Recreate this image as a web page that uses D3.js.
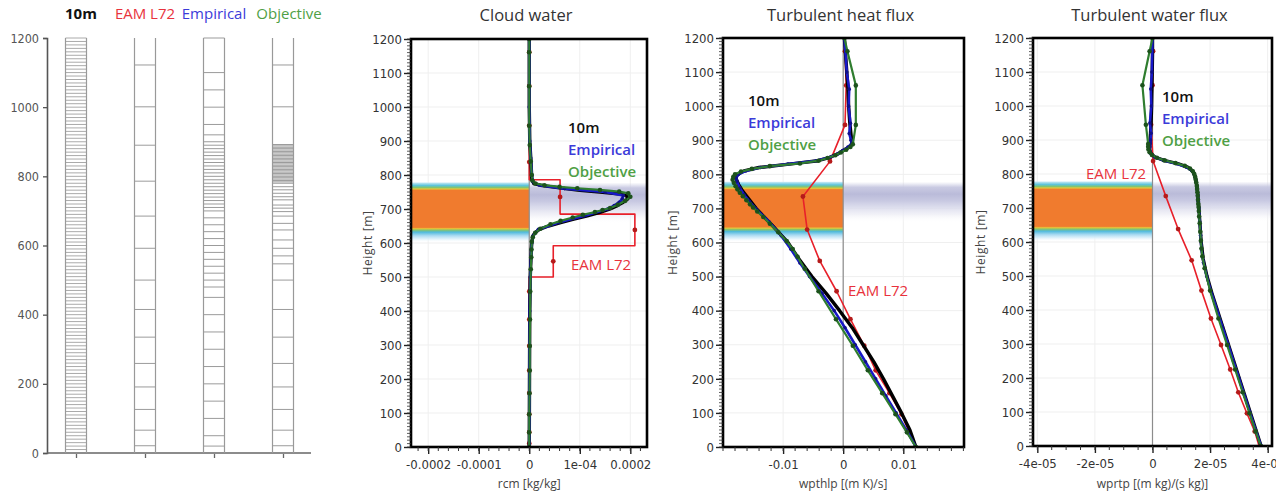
<!DOCTYPE html>
<html>
<head>
<meta charset="utf-8">
<script src="https://cdn.jsdelivr.net/npm/d3@7"></script>
<style>
  body { margin: 0; background: #fff; }
  svg { display: block; }
  .tick text { font-family: "DejaVu Sans Condensed", "Liberation Sans Narrow", "DejaVu Sans", sans-serif; }
  .lbl { font-family: "Open Sans", "Noto Sans", sans-serif; }
</style>
</head>
<body>
<svg id="chart" width="1276" height="494"></svg>
<script>
// ---------- panel 1: vertical grids (level heights in m)
var gridNames = ['10m', 'EAM L72', 'Empirical', 'Objective'];
var grid10m = [10, 20, 30, 40, 50, 60, 70, 80, 90, 100, 110, 120, 130, 140, 150, 160, 170, 180, 190, 200,
  210, 220, 230, 240, 250, 260, 270, 280, 290, 300, 310, 320, 330, 340, 350, 360, 370, 380, 390, 400,
  410, 420, 430, 440, 450, 460, 470, 480, 490, 500, 510, 520, 530, 540, 550, 560, 570, 580, 590, 600,
  610, 620, 630, 640, 650, 660, 670, 680, 690, 700, 710, 720, 730, 740, 750, 760, 770, 780, 790, 800,
  810, 820, 830, 840, 850, 860, 870, 880, 890, 900, 910, 920, 930, 940, 950, 960, 970, 980, 990, 1000,
  1010, 1020, 1030, 1040, 1050, 1060, 1070, 1080, 1090, 1100, 1110, 1120, 1130, 1140, 1150, 1160, 1170, 1180, 1190, 1200];
var gridEAM = [21, 66, 126, 191, 259, 335, 415, 500, 592, 685, 786, 890, 1001, 1122];
var gridEmpirical = [20, 50, 100, 150, 200, 250, 300, 350, 400, 450, 480, 500, 520, 540, 560, 580, 600, 620, 640, 660,
  680, 700, 710, 720, 730, 740, 750, 760, 770, 780, 790, 800, 810, 820, 830, 840, 850, 860, 870, 880,
  890, 900, 920, 950, 1000, 1050, 1100, 1200];
var gridObjective = [21, 66, 126, 191, 259, 335, 415, 500, 547, 570, 592, 616, 645, 664, 685, 698, 708, 717, 732, 741,
  751, 761, 770, 780, 784, 788, 792, 796, 800, 804, 808, 812, 816, 820, 824, 828, 832, 836, 840, 844,
  848, 852, 856, 860, 864, 868, 872, 876, 880, 884, 888, 892, 1001, 1122];
var gridTicks = [0, 200, 400, 600, 800, 1000, 1200];

// ---------- profile heights (m)
var heightTicks = [0, 100, 200, 300, 400, 500, 600, 700, 800, 900, 1000, 1100, 1200];
var z10 = [0, 50, 100, 150, 200, 250, 300, 350, 400, 450, 500, 550, 600, 650, 700, 750, 770, 790, 800, 810,
  820, 830, 840, 850, 860, 870, 880, 890, 900, 950, 1000, 1050, 1100, 1150, 1200];
var zEmp = [0, 50, 100, 150, 200, 250, 300, 350, 400, 450, 500, 540, 580, 620, 660, 700, 720, 740, 760, 780,
  790, 800, 810, 820, 830, 840, 850, 860, 870, 880, 890, 900, 920, 950, 1000, 1050, 1100, 1200];
var zObj = [0, 43, 96, 158, 225, 297, 375, 457, 523, 558, 581, 604, 630, 655, 675, 691, 703, 712, 724, 736,
  746, 756, 765, 775, 784, 792, 800, 808, 816, 824, 832, 840, 848, 856, 864, 872, 880, 888, 945, 1061, 1161, 1200];
var zEAM = [0, 43, 96, 158, 225, 297, 375, 457, 546, 638, 735, 838, 945, 1061, 1161, 1200];

// ---------- cloud water rcm [kg/kg]
var rcmTicks = [-0.0002, -0.0001, 0, 0.0001, 0.0002];
var rcmTickLabels = ['-0.0002', '-0.0001', '0', '1e-04', '0.0002'];
var rcmZ10 = [0, 400, 500, 580, 600, 620, 630, 640, 650, 660, 670, 680, 690, 700, 710, 720, 730, 740, 745, 750,
  755, 760, 765, 770, 775, 790, 850, 900, 1000, 1200];
var rcm10 = [0, 0.01e-4, 0.02e-4, 0.04e-4, 0.05e-4, 0.07e-4, 0.11e-4, 0.2e-4, 0.38e-4, 0.62e-4, 0.88e-4, 1.15e-4, 1.4e-4, 1.6e-4, 1.74e-4, 1.86e-4, 1.95e-4, 1.92e-4, 1.75e-4, 1.4e-4,
  1.0e-4, 0.72e-4, 0.45e-4, 0.22e-4, 0.09e-4, 0.05e-4, 0.03e-4, 0.01e-4, 0, 0];
var rcmZEmp = [0, 400, 500, 580, 600, 620, 640, 660, 680, 700, 710, 720, 730, 740, 750, 760, 770, 780, 800, 850, 900, 1000, 1200];
var rcmEmp = [0, 0.01e-4, 0.02e-4, 0.04e-4, 0.05e-4, 0.07e-4, 0.18e-4, 0.58e-4, 1.1e-4, 1.55e-4, 1.68e-4, 1.78e-4, 1.84e-4, 1.86e-4, 1.5e-4, 0.7e-4, 0.2e-4, 0.07e-4, 0.05e-4, 0.03e-4, 0.01e-4, 0, 0];
var rcmZObj = [0, 43, 96, 158, 225, 297, 375, 457, 523, 558, 581, 604, 617, 630, 642, 655, 665, 675, 683, 691,
  697, 703, 712, 724, 736, 746, 751, 756, 761, 765, 770, 775, 784, 800, 840, 888, 945, 1061, 1161, 1200];
var rcmObj = [0, 0, 0, 0.005e-4, 0.01e-4, 0.01e-4, 0.015e-4, 0.02e-4, 0.03e-4, 0.04e-4, 0.045e-4, 0.05e-4, 0.07e-4, 0.12e-4, 0.22e-4, 0.42e-4, 0.62e-4, 0.86e-4, 1.06e-4, 1.3e-4,
  1.45e-4, 1.6e-4, 1.75e-4, 1.9e-4, 2.0e-4, 1.96e-4, 1.78e-4, 1.4e-4, 0.95e-4, 0.6e-4, 0.3e-4, 0.12e-4, 0.06e-4, 0.05e-4, 0.03e-4, 0.01e-4, 0, 0, 0, 0];
var eamInterfaces = [0, 21, 66, 126, 191, 259, 335, 415, 500, 592, 685, 786, 890, 1001, 1122, 1200];
var rcmEAM = [0, 0, 0, 0, 0, 0, 0, 0, 0.475e-4, 2.09e-4, 0.61e-4, 0, 0, 0, 0];

// ---------- turbulent heat flux wpthlp [(m K)/s]
var heatTicks = [-0.01, 0, 0.01];
var heatTickLabels = ['-0.01', '0', '0.01'];
var heat10 = [0.0121, 0.0111, 0.0097, 0.0082, 0.0067, 0.0051, 0.0033, 0.0015, -0.0006, -0.0028, -0.0052, -0.0073, -0.0092, -0.0118, -0.0145, -0.0167, -0.0174, -0.0179, -0.0176, -0.0165,
  -0.0140, -0.0090, -0.0042, -0.0022, -0.0009, 0.0000, 0.0010, 0.0015, 0.0014, 0.0011, 0.0009, 0.0008, 0.0006, 0.0004, 0.0002];
var heatEmp = [0.0121, 0.0105, 0.0088, 0.0071, 0.0054, 0.0037, 0.0020, 0.0003, -0.0015, -0.0035, -0.0056, -0.0072, -0.0087, -0.0103, -0.0123, -0.0146, -0.0156, -0.0165, -0.0172, -0.0177,
  -0.0178, -0.0174, -0.0162, -0.0138, -0.0092, -0.0045, -0.0022, -0.0009, -0.0001, 0.0008, 0.0014, 0.0013, 0.0010, 0.0012, 0.0009, 0.0010, 0.0006, 0.0002];
var heatObj = [0.0121, 0.0106, 0.0087, 0.0065, 0.0041, 0.0016, -0.0012, -0.0041, -0.0064, -0.0076, -0.0084, -0.0094, -0.0108, -0.0122, -0.0133, -0.0143, -0.0150, -0.0155, -0.0161, -0.0167,
  -0.0172, -0.0176, -0.0179, -0.0182, -0.0184, -0.0183, -0.0180, -0.0170, -0.0152, -0.0122, -0.0072, -0.0041, -0.0026, -0.0013, -0.0004, 0.0005, 0.0012, 0.0016, 0.0021, 0.0021, 0.0007, 0.0002];
var heatEAM = [0.0121, 0.0110, 0.0097, 0.0077, 0.0054, 0.0035, 0.0012, -0.0011, -0.0039, -0.0060, -0.0067, -0.0022, 0.0003, 0.0005, 0.0003, 0.0002];

// ---------- turbulent water flux wprtp [(m kg)/(s kg)]
var waterTicks = [-4e-5, -2e-5, 0, 2e-5, 4e-5];
var waterTickLabels = ['-4e-05', '-2e-05', '0', '2e-05', '4e-05'];
var water10 = [3.77e-5, 3.58e-5, 3.39e-5, 3.20e-5, 3.01e-5, 2.82e-5, 2.63e-5, 2.44e-5, 2.25e-5, 2.06e-5, 1.89e-5, 1.76e-5, 1.69e-5, 1.65e-5, 1.61e-5, 1.56e-5, 1.53e-5, 1.49e-5, 1.45e-5, 1.38e-5,
  1.22e-5, 0.90e-5, 0.40e-5, 0.08e-5, -0.05e-5, -0.10e-5, -0.10e-5, -0.09e-5, -0.08e-5, -0.05e-5, -0.03e-5, -0.02e-5, -0.01e-5, 0, 0];
var waterEmp = [3.77e-5, 3.57e-5, 3.38e-5, 3.19e-5, 3.00e-5, 2.81e-5, 2.62e-5, 2.43e-5, 2.24e-5, 2.05e-5, 1.88e-5, 1.77e-5, 1.70e-5, 1.67e-5, 1.64e-5, 1.61e-5, 1.59e-5, 1.57e-5, 1.54e-5, 1.51e-5,
  1.48e-5, 1.44e-5, 1.36e-5, 1.18e-5, 0.85e-5, 0.38e-5, 0.07e-5, -0.06e-5, -0.10e-5, -0.09e-5, -0.08e-5, -0.07e-5, -0.05e-5, -0.09e-5, -0.04e-5, -0.06e-5, -0.02e-5, 0];
var waterObj = [3.76e-5, 3.58e-5, 3.37e-5, 3.13e-5, 2.87e-5, 2.59e-5, 2.29e-5, 2.00e-5, 1.81e-5, 1.73e-5, 1.70e-5, 1.68e-5, 1.66e-5, 1.64e-5, 1.62e-5, 1.61e-5, 1.60e-5, 1.59e-5, 1.58e-5, 1.57e-5,
  1.56e-5, 1.55e-5, 1.54e-5, 1.52e-5, 1.50e-5, 1.48e-5, 1.45e-5, 1.40e-5, 1.30e-5, 1.12e-5, 0.80e-5, 0.42e-5, 0.15e-5, -0.02e-5, -0.10e-5, -0.14e-5, -0.15e-5, -0.15e-5, -0.23e-5, -0.35e-5, -0.10e-5, 0];
var waterEAM = [3.70e-5, 3.55e-5, 3.28e-5, 2.98e-5, 2.70e-5, 2.38e-5, 2.03e-5, 1.70e-5, 1.36e-5, 0.89e-5, 0.46e-5, 0.02e-5, -0.05e-5, 0, 0.02e-5, 0];

var svg = d3.select('#chart');
var defs = svg.append('defs');
var RED = '#e8323c', BLUE = '#3b3bd9', GREEN = '#4f9f45';

function zip(xs, zs) {
  return zs.map(function(z, i) { return [xs[i], z]; });
}

// ================= panel 1 =================
(function drawGrids() {
  var y = d3.scaleLinear().domain([0, 1200]).range([453, 38]);
  var x = d3.scalePoint().domain(gridNames).range([76, 283]);
  var colW = 21;
  var g = svg.append('g');
  var levels = [grid10m, gridEAM, gridEmpirical, gridObjective];
  var colColors = ['#111', RED, BLUE, GREEN];

  var ya = g.append('g').attr('transform', 'translate(47,0)')
    .call(d3.axisLeft(y).tickValues(gridTicks).tickSize(4).tickPadding(4).tickFormat(d3.format('d')));
  ya.select('.domain').attr('stroke', '#555').attr('stroke-width', 1.6);
  ya.selectAll('.tick line').attr('stroke', '#555').attr('stroke-width', 1.3);
  ya.selectAll('.tick text').attr('fill', '#555').style('font-size', '12.5px');

  g.append('line').attr('x1', 47).attr('x2', 311).attr('y1', y(0)).attr('y2', y(0))
    .attr('stroke', '#666').attr('stroke-width', 1.6);
  var xa = g.append('g').attr('transform', 'translate(0,' + (y(0) + 1) + ')')
    .call(d3.axisBottom(x).tickSize(4).tickFormat(''));
  xa.select('.domain').remove();
  xa.selectAll('.tick line').attr('stroke', '#666').attr('stroke-width', 1.3);

  gridNames.forEach(function(name, i) {
    var cx = x(name), col = g.append('g');
    col.selectAll('line.lev').data(levels[i]).enter().append('line')
      .attr('x1', cx - colW / 2).attr('x2', cx + colW / 2)
      .attr('y1', function(d) { return y(d); }).attr('y2', function(d) { return y(d); })
      .attr('stroke', i === 0 ? '#a0a0a0' : '#909090').attr('stroke-width', 0.9);
    [cx - colW / 2, cx + colW / 2].forEach(function(px) {
      col.append('line').attr('x1', px).attr('x2', px).attr('y1', y(0)).attr('y2', y(1200))
        .attr('stroke', '#999').attr('stroke-width', 1.2);
    });
    g.append('text').attr('class', 'lbl').attr('x', cx + (i === 0 ? 5 : (i === 3 ? 6 : 0))).attr('y', 19)
      .attr('text-anchor', 'middle').style('font-size', '15px')
      .style('font-weight', i === 0 ? 700 : 500).attr('fill', colColors[i]).text(name);
  });
})();

// ================= profile panels =================
function drawPanel(o) {
  var x = d3.scaleLinear().domain(o.xDomain).range([o.left, o.right]);
  var y = d3.scaleLinear().domain([0, 1200]).range([o.bottom, o.top]);
  var g = svg.append('g');
  var clipId = 'clip' + o.id;
  defs.append('clipPath').attr('id', clipId).append('rect')
    .attr('x', o.left).attr('y', o.top).attr('width', o.right - o.left).attr('height', o.bottom - o.top);

  // cloud layer shading (left of zero)
  var bandStops = [[780, '#d8f0fa', 0], [776, '#b4e2f2', 1], [769, '#5cc4da', 1], [763, '#84c46e', 1], [759, '#e3c83c', 1],
    [755, '#f07b2e', 1], [646, '#f07b2e', 1], [642, '#e3c83c', 1], [638, '#84c46e', 1], [632, '#4fbadc', 1],
    [622, '#a6d9f1', 1], [612, '#d6eefa', 0.8], [602, '#ffffff', 0]];
  var gb = defs.append('linearGradient').attr('id', 'band' + o.id).attr('gradientUnits', 'userSpaceOnUse')
    .attr('x1', 0).attr('x2', 0).attr('y1', y(780)).attr('y2', y(602));
  bandStops.forEach(function(s) {
    gb.append('stop').attr('offset', (y(s[0]) - y(780)) / (y(602) - y(780)))
      .attr('stop-color', s[1]).attr('stop-opacity', s[2]);
  });
  var lavStops = [[778, '#c8c9e2', 0], [762, '#c3c4df', 0.9], [742, '#babbd9', 1], [722, '#c8c9e2', 1],
    [702, '#dadbec', 0.9], [682, '#e9e9f3', 0.6], [658, '#ffffff', 0]];
  var gl = defs.append('linearGradient').attr('id', 'lav' + o.id).attr('gradientUnits', 'userSpaceOnUse')
    .attr('x1', 0).attr('x2', 0).attr('y1', y(778)).attr('y2', y(658));
  lavStops.forEach(function(s) {
    gl.append('stop').attr('offset', (y(s[0]) - y(778)) / (y(658) - y(778)))
      .attr('stop-color', s[1]).attr('stop-opacity', s[2]);
  });

  // grid
  g.append('g').selectAll('line').data(o.xTicks).enter().append('line')
    .attr('x1', function(d) { return x(d); }).attr('x2', function(d) { return x(d); })
    .attr('y1', o.top).attr('y2', o.bottom).attr('stroke', '#efefef').attr('stroke-width', 1);
  g.append('g').selectAll('line').data(heightTicks).enter().append('line')
    .attr('x1', o.left).attr('x2', o.right)
    .attr('y1', function(d) { return y(d); }).attr('y2', function(d) { return y(d); })
    .attr('stroke', '#efefef').attr('stroke-width', 1);

  g.append('rect').attr('x', o.left).attr('width', x(0) - o.left)
    .attr('y', y(780)).attr('height', y(602) - y(780)).attr('fill', 'url(#band' + o.id + ')');
  g.append('rect').attr('x', x(0)).attr('width', o.right - x(0))
    .attr('y', y(778)).attr('height', y(658) - y(778)).attr('fill', 'url(#lav' + o.id + ')');

  g.append('line').attr('x1', x(0)).attr('x2', x(0)).attr('y1', o.top).attr('y2', o.bottom)
    .attr('stroke', '#8c8c8c').attr('stroke-width', 1.2);

  // curves
  var line = d3.line().x(function(d) { return x(d[0]); }).y(function(d) { return y(d[1]); });
  var plot = g.append('g').attr('clip-path', 'url(#' + clipId + ')');
  function curve(pts, color, width, dots, dotColor, r) {
    plot.append('path').datum(pts).attr('d', line).attr('fill', 'none')
      .attr('stroke', color).attr('stroke-width', width).attr('stroke-linejoin', 'round');
    if (dots) {
      plot.append('g').selectAll('circle').data(dots).enter().append('circle')
        .attr('cx', function(d) { return x(d[0]); }).attr('cy', function(d) { return y(d[1]); })
        .attr('r', r).attr('fill', dotColor);
    }
  }
  curve(o.eam, '#e8202a', 1.6, o.eamDots, '#b51a1a', 2.4);
  curve(o.s10, '#000', 3.4, null);
  curve(o.emp, '#1818c8', 2.6, o.emp, '#10108a', 1.8);
  curve(o.obj, '#2f7d2f', 2.2, o.obj, '#1c521c', 2.3);

  // frame
  g.append('rect').attr('x', o.left).attr('y', o.top).attr('width', o.right - o.left).attr('height', o.bottom - o.top)
    .attr('fill', 'none').attr('stroke', '#000').attr('stroke-width', 2.6);

  // axes
  var ya = g.append('g').attr('transform', 'translate(' + (o.left - 1) + ',0)')
    .call(d3.axisLeft(y).tickValues(heightTicks).tickSize(6).tickPadding(2).tickFormat(d3.format('d')));
  ya.select('.domain').remove();
  ya.selectAll('.tick line').attr('stroke', '#222').attr('stroke-width', 1.4);
  ya.selectAll('.tick text').attr('fill', '#333').style('font-size', '13px');
  g.append('g').selectAll('line').data(d3.range(0, 1201, 10)).enter().append('line')
    .attr('x1', o.left - 4).attr('x2', o.left)
    .attr('y1', function(d) { return y(d); }).attr('y2', function(d) { return y(d); })
    .attr('stroke', '#333').attr('stroke-width', 0.8);

  var xa = g.append('g').attr('transform', 'translate(0,' + (o.bottom + 1) + ')')
    .call(d3.axisBottom(x).tickValues(o.xTicks).tickSize(6).tickPadding(6)
      .tickFormat(function(d, i) { return o.xTickLabels[i]; }));
  xa.select('.domain').remove();
  xa.selectAll('.tick line').attr('stroke', '#222').attr('stroke-width', 1.4);
  xa.selectAll('.tick text').attr('fill', '#333').style('font-size', '13px');
  var minor = d3.range(o.minor[0], o.minor[1] + o.minor[2] / 2, o.minor[2]);
  g.append('g').selectAll('line').data(minor).enter().append('line')
    .attr('x1', function(d) { return x(d); }).attr('x2', function(d) { return x(d); })
    .attr('y1', o.bottom).attr('y2', o.bottom + 4).attr('stroke', '#333').attr('stroke-width', 1);

  // labels
  g.append('text').attr('class', 'lbl').attr('x', (o.left + o.right) / 2 - 3).attr('y', 21)
    .attr('text-anchor', 'middle').style('font-size', '16.5px').attr('fill', '#333').text(o.title);
  g.append('text').attr('class', 'lbl').attr('x', x(0)).attr('y', 488)
    .attr('text-anchor', 'middle').style('font-size', '12px').attr('fill', '#444').text(o.xLabel);
  g.append('text').attr('class', 'lbl')
    .attr('transform', 'translate(' + o.yLabelX + ',' + y(600) + ') rotate(-90)')
    .attr('text-anchor', 'middle').style('font-size', '12px').style('letter-spacing', '0.6px')
    .attr('fill', '#444').text('Height [m]');

  var leg = g.append('g').attr('class', 'lbl').style('font-size', '15px').style('font-weight', 600);
  leg.append('text').attr('x', o.legend[0]).attr('y', o.legend[1]).attr('fill', '#111').text('10m');
  leg.append('text').attr('x', o.legend[0]).attr('y', o.legend[1] + 22).attr('fill', BLUE).text('Empirical');
  leg.append('text').attr('x', o.legend[0]).attr('y', o.legend[1] + 44).attr('fill', GREEN).text('Objective');
  leg.append('text').attr('x', o.eamLabel[0]).attr('y', o.eamLabel[1]).attr('fill', RED)
    .style('font-weight', 500).text('EAM L72');
}

// EAM cloud water as a layer-mean step profile
var eamStep = [];
rcmEAM.forEach(function(v, i) {
  eamStep.push([v, eamInterfaces[i]], [v, eamInterfaces[i + 1]]);
});
var eamStepDots = rcmEAM.map(function(v, i) { return [v, (eamInterfaces[i] + eamInterfaces[i + 1]) / 2]; });

drawPanel({
  id: 2, left: 411, right: 647, top: 39, bottom: 447, xDomain: [-2.34e-4, 2.33e-4],
  xTicks: rcmTicks, xTickLabels: rcmTickLabels, minor: [-2.2e-4, 2.2e-4, 2e-5],
  title: 'Cloud water', xLabel: 'rcm [kg/kg]', yLabelX: 372,
  legend: [568, 133], eamLabel: [571, 270],
  s10: zip(rcm10, rcmZ10), emp: zip(rcmEmp, rcmZEmp), obj: zip(rcmObj, rcmZObj),
  eam: eamStep, eamDots: eamStepDots
});
drawPanel({
  id: 3, left: 723, right: 964, top: 38, bottom: 447, xDomain: [-0.02, 0.0201],
  xTicks: heatTicks, xTickLabels: heatTickLabels, minor: [-0.02, 0.02, 0.002],
  title: 'Turbulent heat flux', xLabel: 'wpthlp [(m K)/s]', yLabelX: 677,
  legend: [748, 106], eamLabel: [848, 296],
  s10: zip(heat10, z10), emp: zip(heatEmp, zEmp), obj: zip(heatObj, zObj),
  eam: zip(heatEAM, zEAM), eamDots: zip(heatEAM, zEAM).slice(1, -1)
});
drawPanel({
  id: 4, left: 1033, right: 1272, top: 38, bottom: 446, xDomain: [-4.15e-5, 4.15e-5],
  xTicks: waterTicks, xTickLabels: waterTickLabels, minor: [-4e-5, 4e-5, 5e-6],
  title: 'Turbulent water flux', xLabel: 'wprtp [(m kg)/(s kg)]', yLabelX: 985,
  legend: [1162, 102], eamLabel: [1086, 179],
  s10: zip(water10, z10), emp: zip(waterEmp, zEmp), obj: zip(waterObj, zObj),
  eam: zip(waterEAM, zEAM), eamDots: zip(waterEAM, zEAM).slice(1, -1)
});
</script>
</body>
</html>
